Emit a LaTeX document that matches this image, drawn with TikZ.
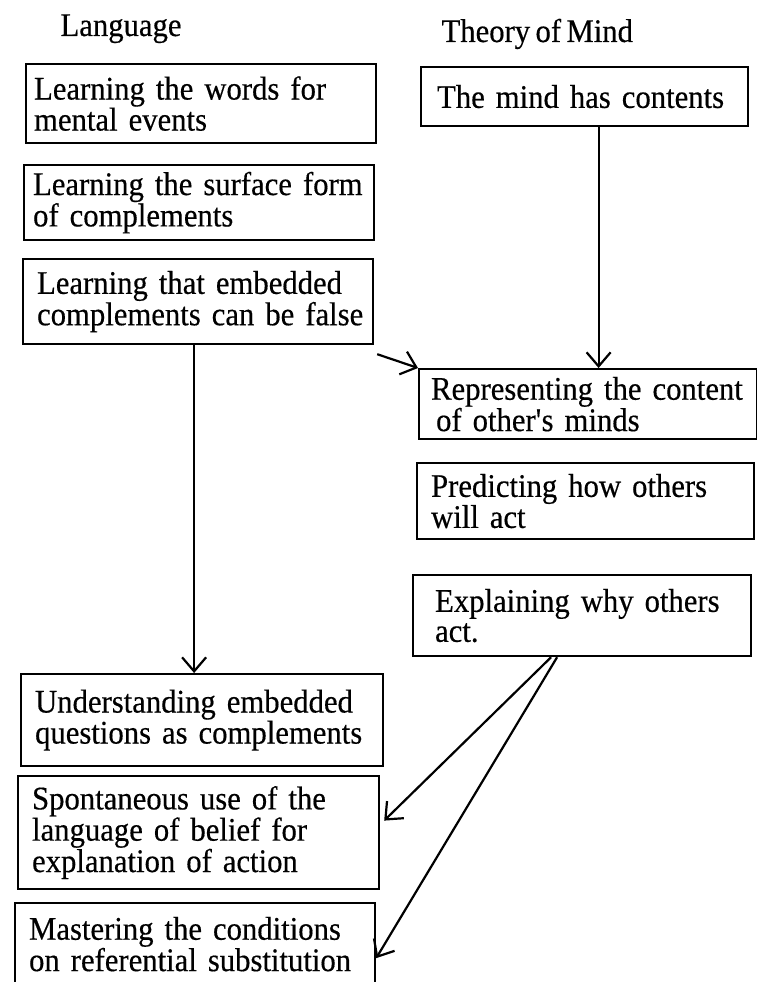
\documentclass[tikz,border=0pt]{standalone}
\usepackage{fontspec}
\setmainfont{Liberation Serif}[FakeStretch=0.93,FakeBold=0.4,WordSpace=0.7]
\usetikzlibrary{arrows.meta}

\begin{document}
\begin{tikzpicture}[x=1pt, y=-1pt,
    box/.style={rectangle,draw,line width=2.2pt,anchor=north west,align=left,inner xsep=8pt,inner ysep=0pt,font=\fontsize{33pt}{30pt}\selectfont},
    head/.style={anchor=base west,font=\fontsize{33pt}{30pt}\selectfont},
    arr/.style={->,>={Straight Barb[length=14pt,width=24pt]},line width=2.2pt}
  ]
  \useasboundingbox (0,0) rectangle (757,982);

  % Language column
  \node[head] (lang) at (57,36) {Language};
  \node[box,text width=334pt,minimum height=79pt] (words) at (25,63)     {Learning the words for\\mental events};
  \node[box,text width=336pt,minimum height=75pt,inner xsep=7pt] (surface) at (23,164)  {\hspace*{2pt}Learning the surface form\\\hspace*{2pt}of complements};
  \node[box,text width=334pt,minimum height=85pt] (falsecomp) at (22,258){\hspace*{6pt}Learning that embedded\\\hspace*{6pt}complements can be false};
  \node[box,text width=346pt,minimum height=92pt] (embedq) at (20,673)   {\hspace*{6pt}Understanding embedded\\\hspace*{6pt}questions as complements};
  \node[box,text width=345pt,minimum height=113pt] (spont) at (17,775)   {\hspace*{6pt}Spontaneous use of the\\\hspace*{6pt}language of belief for\\\hspace*{6pt}explanation of action};
  \node[box,text width=344pt,minimum height=82pt] (master) at (14,902)   {\hspace*{6pt}Mastering the conditions\\\hspace*{6pt}on referential substitution};

  % Theory of Mind column
  \node[head] (tom) at (438,42) {Theory of Mind};
  \node[box,text width=311pt,minimum height=59pt] (contents) at (420,66)  {\hspace*{8pt}The mind has contents};
  \node[box,text width=322pt,minimum height=70pt] (represent) at (418,368){\hspace*{4pt}Representing the content\\\hspace*{9pt}of other\textquotesingle s minds};
  \node[box,text width=321pt,minimum height=76pt] (predict) at (416,462)  {\hspace*{6pt}Predicting how others\\\hspace*{6pt}will act};
  \node[box,text width=322pt,minimum height=81pt] (explain) at (412,574)  {\hspace*{14pt}Explaining why others\\\hspace*{14pt}act.};

  % arrows
  \draw[arr] ([xshift=14pt]contents.south) -- ([xshift=14pt]contents.south |- represent.north);
  \draw[arr] ([shift={(3pt,-9pt)}]falsecomp.south east) -- (represent.north west);
  \draw[arr] ([xshift=-4pt]falsecomp.south) -- ([xshift=-4pt]falsecomp.south |- embedq.north);
  \draw[arr] ([xshift=-31pt]explain.south) -- ([shift={(4pt,12pt)}]spont.east);
  \draw[arr] ([xshift=-25pt]explain.south) -- ([shift={(0pt,-14pt)}]master.east);
\end{tikzpicture}
\end{document}
